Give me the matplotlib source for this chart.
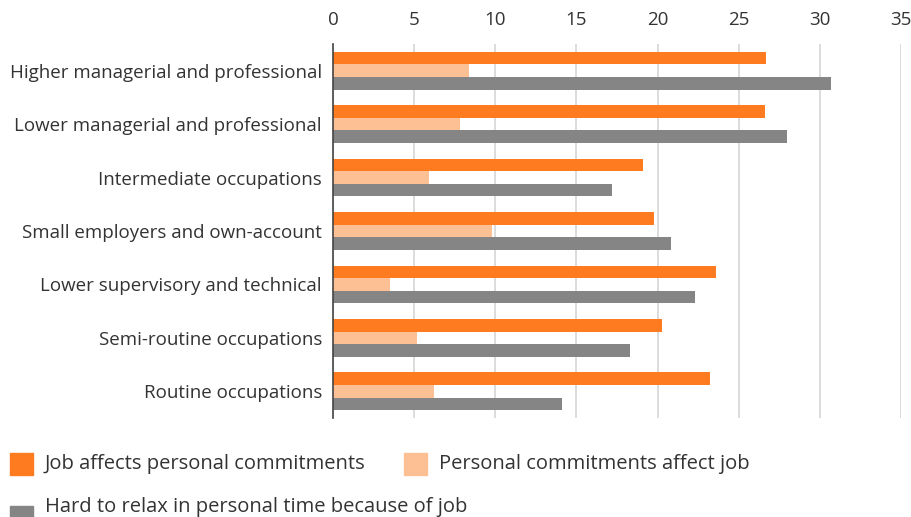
import numpy as np
import matplotlib
matplotlib.use("Agg")
import matplotlib.pyplot as plt
from matplotlib.patches import Rectangle

# data
categories = [
    "Higher managerial and professional",
    "Lower managerial and professional",
    "Intermediate occupations",
    "Small employers and own-account",
    "Lower supervisory and technical",
    "Semi-routine occupations",
    "Routine occupations",
]
job_affects = [26.7, 26.6, 19.1, 19.8, 23.6, 20.3, 23.2]
personal_affects = [8.4, 7.8, 5.9, 9.8, 3.5, 5.2, 6.2]
hard_to_relax = [30.7, 28.0, 17.2, 20.8, 22.3, 18.3, 14.1]
series_names = [
    "Job affects personal commitments",
    "Personal commitments affect job",
    "Hard to relax in personal time because of job",
]
xticks = [0, 5, 10, 15, 20, 25, 30, 35]

ORANGE = "#ff7b1f"
PEACH = "#fdbf94"
GREY = "#858585"
TEXT = "#333333"
colors = [ORANGE, PEACH, GREY]

plt.rcParams["font.family"] = ["Open Sans", "DejaVu Sans"]

fig = plt.figure(figsize=(9.12, 5.17), dpi=100)
ax = fig.add_axes([333 / 912, 1 - 418 / 517, (901 - 333) / 912, (418 - 44) / 517])

y = np.arange(len(categories))
h = 0.235
for k, vals in enumerate([job_affects, personal_affects, hard_to_relax]):
    ax.barh(y + (k - 1) * h, vals, height=h, color=colors[k], zorder=3)

ax.set_xlim(0, 35)
ax.set_ylim(len(categories) - 0.5, -0.5)
ax.set_xticks(xticks)
ax.set_yticks(y)
ax.set_yticklabels(categories)
ax.xaxis.tick_top()
ax.tick_params(axis="x", length=0, pad=10.5, labelsize=13.5, labelcolor=TEXT)
ax.tick_params(axis="y", length=0, pad=8, labelsize=13.5, labelcolor=TEXT)
ax.grid(axis="x", color="#d9d9d9", linewidth=1.3, zorder=0)
for s in ["top", "right", "bottom"]:
    ax.spines[s].set_visible(False)
ax.spines["left"].set_color("#444444")
ax.spines["left"].set_linewidth(1.2)
ax.spines["left"].set_zorder(4)

# legend laid out by hand (second column overlaps the first column's long label)
leg_pos = [(10, 464), (404, 464), (10, 517)]
text_y = [464, 464, 507]
for (px, py), ty, name, c in zip(leg_pos, text_y, series_names, colors):
    fig.patches.append(Rectangle((px / 912, 1 - (py + 11) / 517), 23 / 912, 22 / 517,
                                 transform=fig.transFigure, color=c))
    fig.text((px + 35) / 912, 1 - ty / 517, name, fontsize=14.5, color=TEXT,
             va="center", ha="left")

fig.savefig("out.png", dpi=100)
